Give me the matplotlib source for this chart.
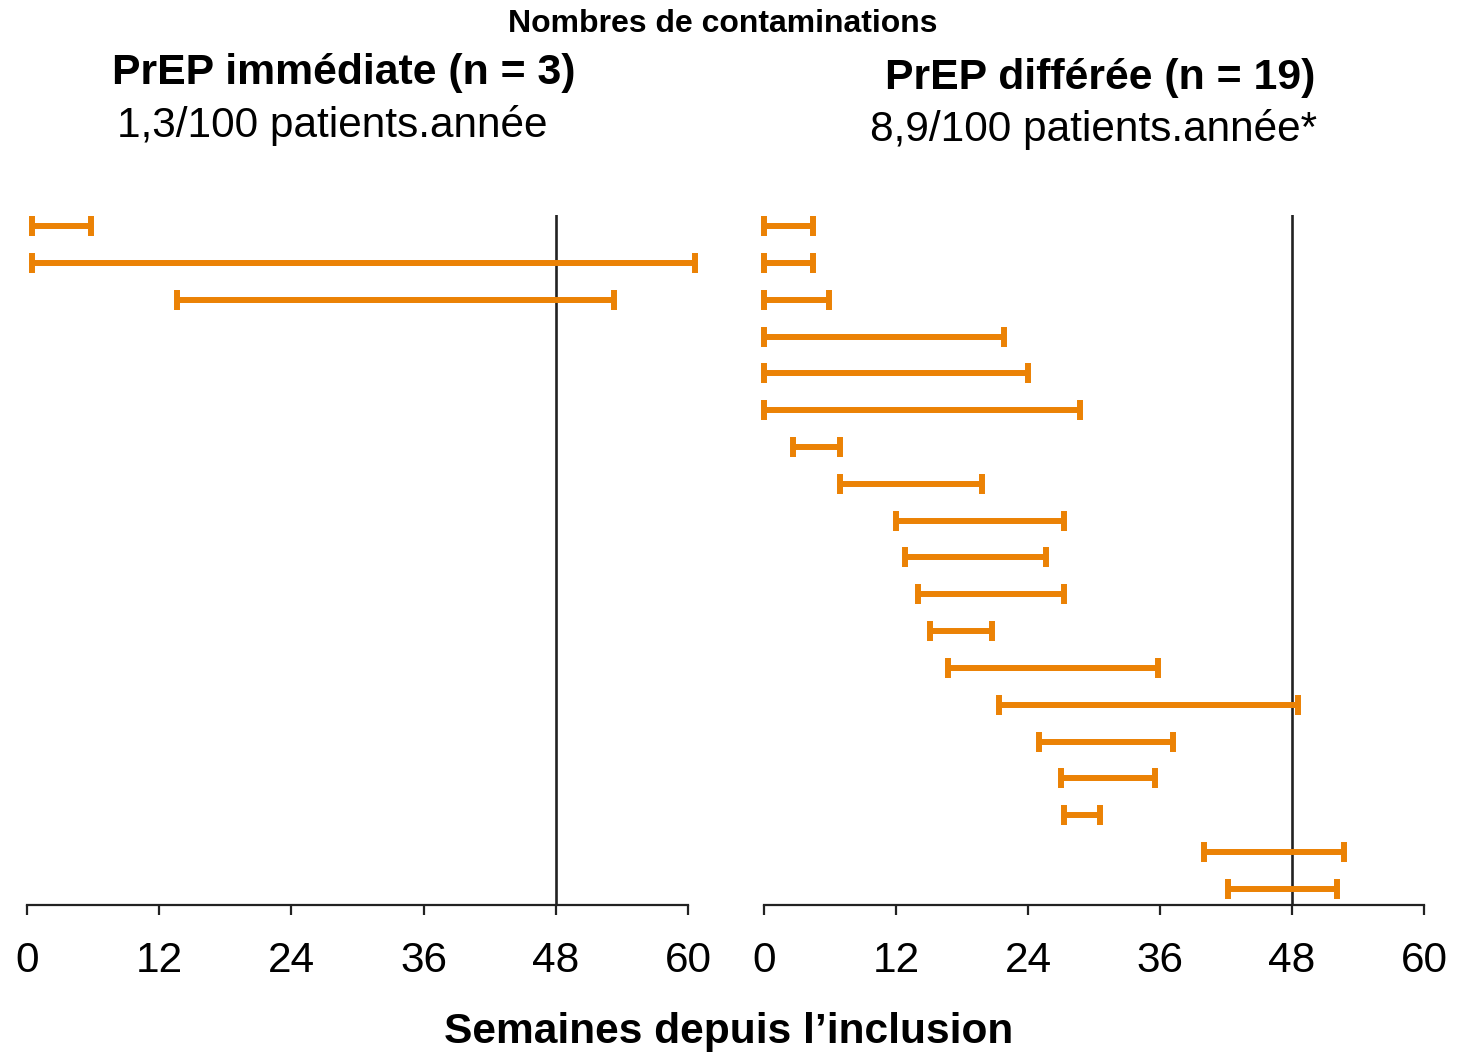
import matplotlib
matplotlib.use("Agg")
import matplotlib.pyplot as plt

plt.rcParams['font.family'] = ['Liberation Sans', 'DejaVu Sans']

# Data (weeks since inclusion)
imm_start = [0.45, 0.45, 13.6]
imm_end = [5.8, 60.6, 53.3]

def_start = [0.0, 0.0, 0.0, 0.0, 0.0, 0.0, 2.6, 6.9, 12.0, 12.8, 14.0, 15.1,
             16.7, 21.4, 25.0, 27.0, 27.3, 40.0, 42.2]
def_end = [4.45, 4.45, 5.9, 21.8, 24.0, 28.7, 6.9, 19.8, 27.3, 25.6, 27.3, 20.7,
           35.8, 48.5, 37.2, 35.5, 30.5, 52.7, 52.1]

ticks = [0, 12, 24, 36, 48, 60]
ref_week = 48

orange = '#EB8205'
dark = '#222222'

W, H = 1457, 1052
fig = plt.figure(figsize=(W / 100, H / 100), dpi=100)

bottom = (H - 905) / H
height = (905 - 215) / H
axL = fig.add_axes([27 / W, bottom, 661 / W, height])
axR = fig.add_axes([764 / W, bottom, 660 / W, height])

n_rows = len(def_start)
ylo = -11 / 36.8
yhi = (n_rows - 1) + 16 / 36.8

for ax, s, e in [(axL, imm_start, imm_end), (axR, def_start, def_end)]:
    ys = list(range(len(s)))
    mids = [(a + b) / 2 for a, b in zip(s, e)]
    half = [(b - a) / 2 for a, b in zip(s, e)]
    cont = ax.errorbar(mids, ys, xerr=half, fmt='none', ecolor=orange,
                       elinewidth=4.3, capsize=7, capthick=4.3, zorder=3)
    for ch in cont.get_children():
        ch.set_clip_on(False)
    ax.axvline(ref_week, color=dark, lw=1.9, zorder=2)
    ax.set_xlim(0, 60)
    ax.set_ylim(yhi, ylo)
    ax.set_xticks(ticks)
    ax.set_xticklabels([str(t) for t in ticks])
    ax.set_yticks([])
    for sp in ['top', 'left', 'right']:
        ax.spines[sp].set_visible(False)
    ax.spines['bottom'].set_linewidth(1.6)
    ax.spines['bottom'].set_color(dark)
    ax.tick_params(axis='x', direction='out', length=7, width=1.6, color=dark,
                   labelsize=30.5, pad=19, labelcolor='black')
    ax.patch.set_alpha(0)

fig.text(723 / W, 1 - 24 / H, 'Nombres de contaminations', ha='center', va='center',
         fontsize=23, fontweight='bold')
fig.text(344 / W, 1 - 73 / H, 'PrEP immédiate (n = 3)', ha='center', va='center',
         fontsize=30.8, fontweight='bold')
fig.text(332 / W, 1 - 125 / H, '1,3/100 patients.année', ha='center', va='center',
         fontsize=30.5)
fig.text(1100 / W, 1 - 78 / H, 'PrEP différée (n = 19)', ha='center', va='center',
         fontsize=30.8, fontweight='bold')
fig.text(1093 / W, 1 - 130 / H, '8,9/100 patients.année*', ha='center', va='center',
         fontsize=30.5)
fig.text(729 / W, 1 - 1032 / H, 'Semaines depuis l\u2019inclusion', ha='center', va='center',
         fontsize=30.6, fontweight='bold')

fig.savefig('out.png', dpi=100)
